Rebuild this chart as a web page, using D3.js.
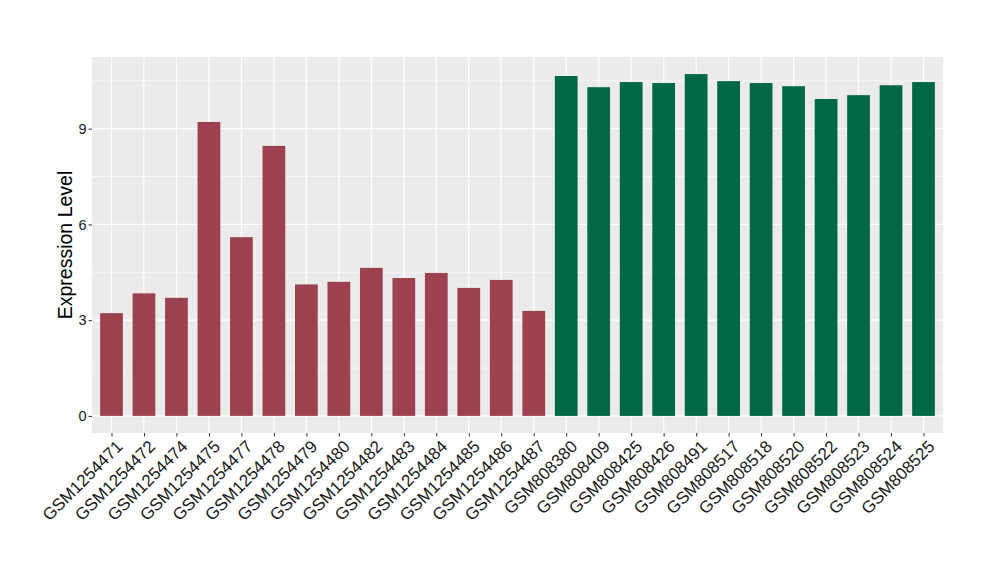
<!DOCTYPE html>
<html>
<head>
<meta charset="utf-8">
<script src="https://cdn.jsdelivr.net/npm/d3@7/dist/d3.min.js"></script>
<style>
  html, body { margin: 0; padding: 0; background: #fff; }
  svg { display: block; font-family: "Liberation Sans", Arial, sans-serif; }
</style>
</head>
<body>
<svg id="chart" width="1000" height="580"></svg>
<script>
const samples = ["GSM1254471","GSM1254472","GSM1254474","GSM1254475","GSM1254477","GSM1254478","GSM1254479","GSM1254480","GSM1254482","GSM1254483","GSM1254484","GSM1254485","GSM1254486","GSM1254487","GSM808380","GSM808409","GSM808425","GSM808426","GSM808491","GSM808517","GSM808518","GSM808520","GSM808522","GSM808523","GSM808524","GSM808525"];
const values = [3.22,3.84,3.70,9.21,5.60,8.46,4.12,4.20,4.64,4.32,4.48,4.01,4.26,3.29,10.65,10.30,10.46,10.43,10.71,10.49,10.43,10.33,9.93,10.05,10.36,10.46];
const groups = ["A","A","A","A","A","A","A","A","A","A","A","A","A","A","B","B","B","B","B","B","B","B","B","B","B","B"];
const groupNames = ["A","B"];
const groupColors = ["#9b4150","#006847"];
const yTicks = [0,3,6,9];
const yMinor = [1.5,4.5,7.5,10.5];
const yTitle = "Expression Level";

const svg = d3.select("#chart");
const pLeft = 92, pRight = 943, pTop = 57, pBottom = 433;

const ymax = d3.max(values);
const pad = ymax * 0.05;
const y = d3.scaleLinear().domain([-pad, ymax + pad]).range([pBottom, pTop]);
const x = d3.scalePoint().domain(samples).range([pLeft, pRight]).padding(0.6);
const bw = x.step() * 0.7;
const color = d3.scaleOrdinal().domain(groupNames).range(groupColors);

// panel
svg.append("rect").attr("x", pLeft).attr("y", pTop).attr("width", pRight - pLeft).attr("height", pBottom - pTop).attr("fill", "#ebebeb");

// minor grid
svg.append("g").selectAll("line").data(yMinor).join("line")
  .attr("x1", pLeft).attr("x2", pRight)
  .attr("y1", d => y(d)).attr("y2", d => y(d))
  .attr("stroke", "#fff").attr("stroke-width", 0.6);
// major grid
svg.append("g").selectAll("line").data(yTicks).join("line")
  .attr("x1", pLeft).attr("x2", pRight)
  .attr("y1", d => y(d)).attr("y2", d => y(d))
  .attr("stroke", "#fff").attr("stroke-width", 1.2);
svg.append("g").selectAll("line").data(samples).join("line")
  .attr("x1", d => x(d)).attr("x2", d => x(d))
  .attr("y1", pTop).attr("y2", pBottom)
  .attr("stroke", "#fff").attr("stroke-width", 1.2);

// bars
svg.append("g").selectAll("rect").data(samples).join("rect")
  .attr("x", d => x(d) - bw / 2)
  .attr("width", bw)
  .attr("y", (d, i) => y(values[i]))
  .attr("height", (d, i) => y(0) - y(values[i]))
  .attr("fill", (d, i) => color(groups[i]));

// y axis
const yAxis = svg.append("g").attr("transform", `translate(${pLeft},0)`)
  .call(d3.axisLeft(y).tickValues(yTicks).tickSize(3.5).tickPadding(2).tickFormat(d3.format("d")));
yAxis.attr("font-size", null).attr("font-family", null);
yAxis.select(".domain").remove();
yAxis.selectAll(".tick line").attr("stroke", "#333").attr("stroke-width", 1);
yAxis.selectAll(".tick text").attr("fill", "#1a1a1a")
  .style("font-size", "14.5px").style("font-family", "'Liberation Sans', Arial, sans-serif");

// x axis
const xAxis = svg.append("g").attr("transform", `translate(0,${pBottom})`)
  .call(d3.axisBottom(x).tickSize(3.5).tickFormat(d => d));
xAxis.attr("font-size", null).attr("font-family", null);
xAxis.select(".domain").remove();
xAxis.selectAll(".tick line").attr("stroke", "#333").attr("stroke-width", 1);
xAxis.selectAll(".tick text")
  .attr("fill", "#1a1a1a")
  .style("font-size", "17px")
  .style("font-family", "'Liberation Sans', Arial, sans-serif")
  .attr("text-anchor", "end")
  .attr("transform", "translate(3,6) rotate(-45)")
  .attr("x", 0).attr("y", 0).attr("dy", "0.72em");

// y title
svg.append("text")
  .attr("transform", `translate(72,${(pTop + pBottom) / 2}) rotate(-90)`)
  .attr("text-anchor", "middle")
  .style("font-size", "19.5px")
  .attr("fill", "#000")
  .text(yTitle);
</script>
</body>
</html>
